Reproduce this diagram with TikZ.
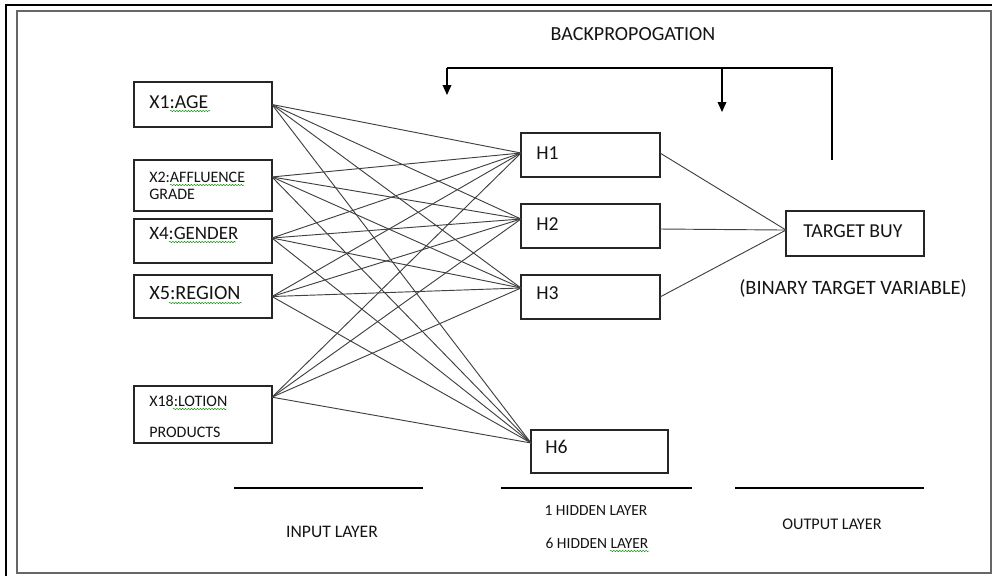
\documentclass[tikz,border=0pt]{standalone}
\usepackage{fontspec}
\setmainfont{Carlito}
\usetikzlibrary{arrows.meta,decorations.pathmorphing}
\newcommand\myfs[1]{\fontsize{#1}{#1}\selectfont}
\begin{document}
\begin{tikzpicture}[x=0.75pt,y=-0.75pt,
  box/.style={draw=black!85, line width=1pt, inner sep=0pt, outer sep=0pt},
  lbl/.style={inner sep=0pt, anchor=west, text=black!92},
  ctr/.style={inner sep=0pt, text=black!92},
  wire/.style={draw=black!75, line width=0.7pt},
  squig/.style={draw=green!55!black, line width=0.35pt, decorate, decoration={snake, amplitude=0.5pt, segment length=2.2pt}},
  bp/.style={draw=black, line width=1pt},
  tipped/.style={-{Triangle[width=6.5pt,length=7.5pt]}},
  rule/.style={draw=black, line width=1.1pt}
]
\useasboundingbox (0,0) rectangle (992,576);
% frames
\draw[line width=1.6pt, black] (6,576) -- (6,5) -- (992,5);
\draw[line width=1.1pt, black!60] (17,11) rectangle (991,573);

% input boxes
\node[box, minimum width=103.5pt, minimum height=33.75pt] (x1) at (203,104.5) {};
\node[box, minimum width=103.5pt, minimum height=38.25pt] (x2) at (203,185.5) {};
\node[box, minimum width=103.5pt, minimum height=33pt] (x4) at (203,241) {};
\node[box, minimum width=103.5pt, minimum height=32.25pt] (x5) at (203,296.5) {};
\node[box, minimum width=103.5pt, minimum height=42.75pt] (x18) at (203,414.5) {};
% hidden boxes
\node[box, minimum width=104.25pt, minimum height=33pt] (h1) at (590.5,155) {};
\node[box, minimum width=104.25pt, minimum height=33pt] (h2) at (590.5,226) {};
\node[box, minimum width=104.25pt, minimum height=33pt] (h3) at (590.5,297) {};
\node[box, minimum width=102.75pt, minimum height=32.25pt] (h6) at (599.5,451.5) {};
% output box
\node[box, minimum width=103.5pt, minimum height=33.75pt] (tb) at (855,233.5) {};

% box texts
\node[lbl, font=\myfs{14.8pt}] (t1) at (149,102) {X1:AGE};
\node[lbl, font=\myfs{12pt}] (t2a) at (149,177) {X2:AFFLUENCE};
\node[lbl, font=\myfs{12pt}] (t2b) at (149,194) {GRADE};
\node[lbl, font=\myfs{14.2pt}] (t4) at (149,233) {X4:GENDER};
\node[lbl, font=\myfs{15.2pt}] (t5) at (149,293) {X5:REGION};
\node[lbl, font=\myfs{12pt}] (t18a) at (149,401) {X18:LOTION};
\node[lbl, font=\myfs{12pt}] (t18b) at (149,432) {PRODUCTS};
\node[lbl, font=\myfs{14.8pt}] (th1) at (536,153) {H1};
\node[lbl, font=\myfs{14.8pt}] (th2) at (536,224) {H2};
\node[lbl, font=\myfs{14.8pt}] (th3) at (536,293) {H3};
\node[lbl, font=\myfs{14.8pt}] (th6) at (545,447) {H6};
\node[lbl, font=\myfs{14.8pt}] (ttb) at (803,231) {TARGET BUY};

% other texts
\node[ctr, font=\myfs{15pt}] (bptext) at (633,34) {BACKPROPOGATION};
\node[ctr, font=\myfs{15.3pt}] (btv) at (853,288) {(BINARY TARGET VARIABLE)};
\node[ctr, font=\myfs{13.2pt}] (inl) at (332,532) {INPUT LAYER};
\node[ctr, font=\myfs{11.6pt}] (hl1) at (596,511) {1 HIDDEN LAYER};
\node[ctr, font=\myfs{11.6pt}] (hl6) at (597,543) {6 HIDDEN LAYER};
\node[ctr, font=\myfs{12.2pt}] (outl) at (832,524) {OUTPUT LAYER};

% spell-check squiggles
\draw[squig] (170,111) -- (210,111);
\draw[squig] (170,185) -- (244,185);
\draw[squig] (169,242) -- (236,242);
\draw[squig] (169,303) -- (242,303);
\draw[squig] (173,409) -- (227,409);
\draw[squig] (610,551) -- (649,551);

% ports
\coordinate (x1o) at (x1.east);
\coordinate (x2o) at ([yshift=6.4pt]x2.east);
\coordinate (x4o) at ([yshift=2.25pt]x4.east);
\coordinate (x5o) at (x5.east);
\coordinate (x18o) at ([yshift=13pt]x18.east);
\coordinate (h1i) at ([yshift=1.5pt]h1.west);
\coordinate (h2i) at ([yshift=5.25pt]h2.west);
\coordinate (h3i) at ([yshift=6.75pt]h3.west);
\coordinate (h6i) at ([yshift=6.4pt]h6.west);
\coordinate (h1o) at ([yshift=1.5pt]h1.east);
\coordinate (h2o) at ([yshift=-2.25pt]h2.east);
\coordinate (h3o) at (h3.east);
\coordinate (tbi) at ([yshift=2.6pt]tb.west);

% input -> hidden
\foreach \s in {x1o,x2o,x4o,x5o,x18o}{
  \foreach \t in {h1i,h2i,h3i,h6i}{
    \draw[wire] (\s) -- (\t);
  }
}
% hidden -> output
\draw[wire] (h1o) -- (tbi);
\draw[wire] (h2o) -- (tbi);
\draw[wire] (h3o) -- (tbi);

% backpropagation arrows
\coordinate (bpR) at (832,160);
\coordinate (bpL) at (447,68);
\coordinate (bpLtip) at (447,95);
\coordinate (bpM) at (722,68);
\coordinate (bpMtip) at (722,112);
\draw[bp] (bpR) |- (bpL);
\draw[bp, tipped] (bpL) -- (bpLtip);
\draw[bp, tipped] (bpM) -- (bpMtip);

% layer rules
\coordinate (r1a) at (234,488); \coordinate (r1b) at (423,488);
\coordinate (r2a) at (501,488); \coordinate (r2b) at (692,488);
\coordinate (r3a) at (735,488); \coordinate (r3b) at (924,488);
\draw[rule] (r1a) -- (r1b);
\draw[rule] (r2a) -- (r2b);
\draw[rule] (r3a) -- (r3b);
\end{tikzpicture}
\end{document}
